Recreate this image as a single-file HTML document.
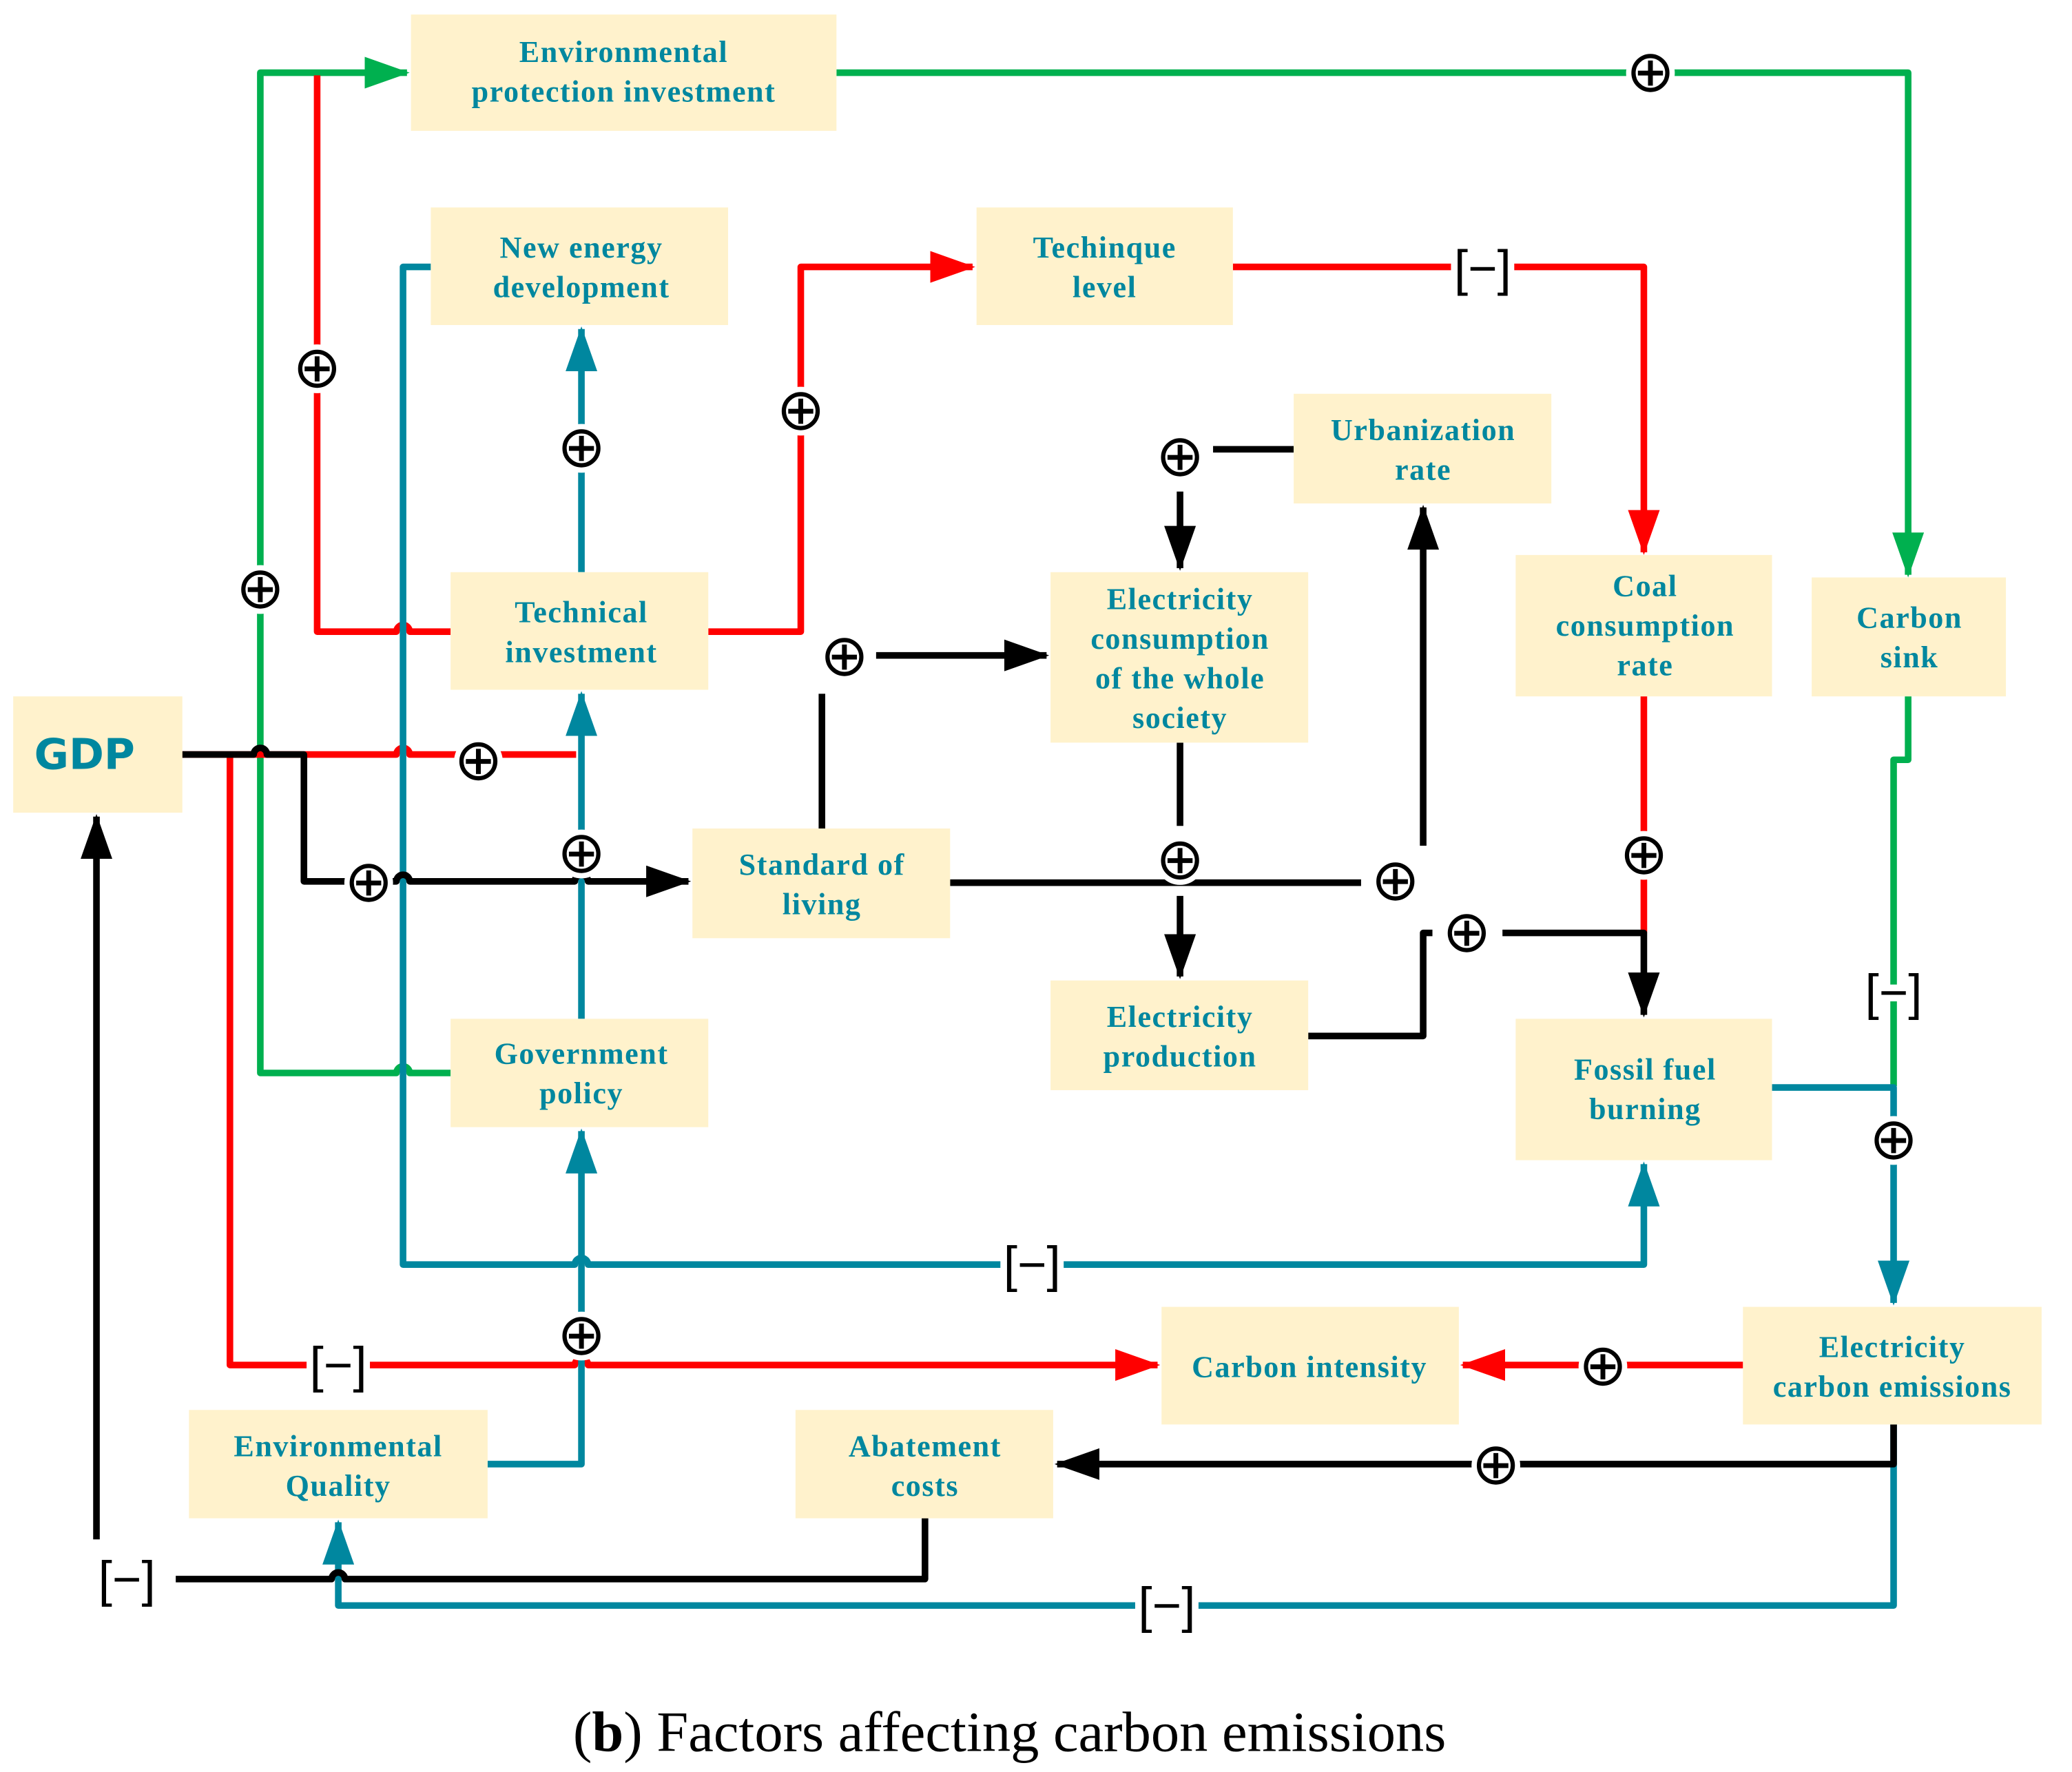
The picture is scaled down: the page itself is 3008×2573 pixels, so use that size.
<!DOCTYPE html>
<html><head><meta charset="utf-8"><style>
html,body{margin:0;padding:0;background:#fff;}
svg{display:block;}
.b{fill:#fff2cc;}
.t{font-family:"Liberation Serif",serif;font-weight:bold;fill:#00879f;font-size:23px;text-anchor:middle;letter-spacing:0.8px;}
.s{font-family:"DejaVu Sans",sans-serif;font-size:44px;text-anchor:middle;fill:#000;stroke:#fff;stroke-width:8px;paint-order:stroke;}
.m{font-family:"Liberation Sans",sans-serif;font-size:38px;text-anchor:middle;fill:#000;stroke:#fff;stroke-width:10px;paint-order:stroke;}
.g{stroke:#00b04f;fill:none;stroke-width:5;stroke-linejoin:round}
.r{stroke:#ff0000;fill:none;stroke-width:5;stroke-linejoin:round}
.c{stroke:#00879f;fill:none;stroke-width:5;stroke-linejoin:round}
.k{stroke:#000;fill:none;stroke-width:5;stroke-linejoin:round}
</style></head><body>
<svg width="3008" height="2573" viewBox="0 0 1568 1341" preserveAspectRatio="none" xmlns="http://www.w3.org/2000/svg">
<defs>
<marker id="ag" markerUnits="userSpaceOnUse" markerWidth="34" markerHeight="24" refX="32" refY="12" orient="auto"><path d="M0,0 L34,12 L0,24Z" fill="#00b04f"/></marker>
<marker id="ar" markerUnits="userSpaceOnUse" markerWidth="34" markerHeight="24" refX="32" refY="12" orient="auto"><path d="M0,0 L34,12 L0,24Z" fill="#ff0000"/></marker>
<marker id="ac" markerUnits="userSpaceOnUse" markerWidth="34" markerHeight="24" refX="32" refY="12" orient="auto"><path d="M0,0 L34,12 L0,24Z" fill="#00879f"/></marker>
<marker id="ak" markerUnits="userSpaceOnUse" markerWidth="34" markerHeight="24" refX="32" refY="12" orient="auto"><path d="M0,0 L34,12 L0,24Z" fill="#000"/></marker>
</defs>

<path class="g" d="M197,440 V55 H308" marker-end="url(#ag)"/>
<path class="g" d="M197,440 V812 H300 a5,5 0 0 1 10,0 H341"/>
<path class="g" d="M633,55 H1444 V435" marker-end="url(#ag)"/>
<path class="g" d="M1444,527 V575 H1433 V822"/>
<path class="r" d="M240,57 V478 H300 a5,5 0 0 1 10,0 H341"/>
<path class="r" d="M536,478 H606 V202 H736" marker-end="url(#ar)"/>
<path class="r" d="M933,202 H1244 V418" marker-end="url(#ar)"/>
<path class="r" d="M1244,527 V706"/>
<path class="r" d="M138,571 H300 a5,5 0 0 1 10,0 H436"/>
<path class="r" d="M174,571 V1033 H435 a5,5 0 0 1 10,0 H876" marker-end="url(#ar)"/>
<path class="r" d="M1319,1033 H1107" marker-end="url(#ar)"/>
<path class="c" d="M326,202 H305 V957 H435 a5,5 0 0 1 10,0 H1244 V881" marker-end="url(#ac)"/>
<path class="c" d="M440,433 V249" marker-end="url(#ac)"/>
<path class="c" d="M440,771 V525" marker-end="url(#ac)"/>
<path class="c" d="M369,1108 H440 V856" marker-end="url(#ac)"/>
<path class="c" d="M1341,823 H1433 V986" marker-end="url(#ac)"/>
<path class="c" d="M1433,1078 V1215 H256 V1152" marker-end="url(#ac)"/>
<path class="k" d="M138,571 H192 a5,5 0 0 1 10,0 H230 V667 H300 a5,5 0 0 1 10,0 H435 a5,5 0 0 1 10,0 H521" marker-end="url(#ak)"/>
<path class="k" d="M622,627 V525"/>
<path class="k" d="M663,496 H792" marker-end="url(#ak)"/>
<path class="k" d="M719,668 H1030"/>
<path class="k" d="M1077,640 V384" marker-end="url(#ak)"/>
<path class="k" d="M979,340 H918"/>
<path class="k" d="M893,372 V430" marker-end="url(#ak)"/>
<path class="k" d="M893,562 V625"/>
<path class="k" d="M893,678 V739" marker-end="url(#ak)"/>
<path class="k" d="M990,784 H1077 V706 H1084"/>
<path class="k" d="M1137,706 H1244 V768" marker-end="url(#ak)"/>
<path class="k" d="M1433,1078 V1108 H800" marker-end="url(#ak)"/>
<path class="k" d="M700,1149 V1195 H261 a5,5 0 0 0 -10,0 H133"/>
<path class="k" d="M73,1165 V618" marker-end="url(#ak)"/>

<rect class="b" x="311" y="11" width="322" height="88"/>
<text class="t" x="472" y="47">Environmental</text><text class="t" x="472" y="77">protection investment</text>
<rect class="b" x="326" y="157" width="225" height="89"/>
<text class="t" x="440" y="195">New energy</text><text class="t" x="440" y="225">development</text>
<rect class="b" x="739" y="157" width="194" height="89"/>
<text class="t" x="836" y="195">Techinque</text><text class="t" x="836" y="225">level</text>
<rect class="b" x="979" y="298" width="195" height="83"/>
<text class="t" x="1077" y="333">Urbanization</text><text class="t" x="1077" y="363">rate</text>
<rect class="b" x="341" y="433" width="195" height="89"/>
<text class="t" x="440" y="471">Technical</text><text class="t" x="440" y="501">investment</text>
<rect class="b" x="795" y="433" width="195" height="129"/>
<text class="t" x="893" y="461">Electricity</text><text class="t" x="893" y="491">consumption</text><text class="t" x="893" y="521">of the whole</text><text class="t" x="893" y="551">society</text>
<rect class="b" x="1147" y="420" width="194" height="107"/>
<text class="t" x="1245" y="451">Coal</text><text class="t" x="1245" y="481">consumption</text><text class="t" x="1245" y="511">rate</text>
<rect class="b" x="1371" y="437" width="147" height="90"/>
<text class="t" x="1445" y="475">Carbon</text><text class="t" x="1445" y="505">sink</text>
<rect class="b" x="10" y="527" width="128" height="88"/>
<text x="64" y="582" style="font-family:'DejaVu Sans',sans-serif;font-weight:bold;font-size:32px;fill:#00879f;text-anchor:middle">GDP</text>
<rect class="b" x="524" y="627" width="195" height="83"/>
<text class="t" x="622" y="662">Standard of</text><text class="t" x="622" y="692">living</text>
<rect class="b" x="795" y="742" width="195" height="83"/>
<text class="t" x="893" y="777">Electricity</text><text class="t" x="893" y="807">production</text>
<rect class="b" x="341" y="771" width="195" height="82"/>
<text class="t" x="440" y="805">Government</text><text class="t" x="440" y="835">policy</text>
<rect class="b" x="1147" y="771" width="194" height="107"/>
<text class="t" x="1245" y="817">Fossil fuel</text><text class="t" x="1245" y="847">burning</text>
<rect class="b" x="879" y="989" width="225" height="89"/>
<text class="t" x="991" y="1042">Carbon intensity</text>
<rect class="b" x="1319" y="989" width="226" height="89"/>
<text class="t" x="1432" y="1027">Electricity</text><text class="t" x="1432" y="1057">carbon emissions</text>
<rect class="b" x="143" y="1067" width="226" height="82"/>
<text class="t" x="256" y="1102">Environmental</text><text class="t" x="256" y="1132">Quality</text>
<rect class="b" x="602" y="1067" width="195" height="82"/>
<text class="t" x="700" y="1102">Abatement</text><text class="t" x="700" y="1132">costs</text>

<g class="s">
<text x="1249" y="69">⊕</text>
<text x="240" y="293">⊕</text>
<text x="440" y="353">⊕</text>
<text x="606" y="325">⊕</text>
<text x="197" y="460">⊕</text>
<text x="893" y="360">⊕</text>
<text x="639" y="511">⊕</text>
<text x="362" y="590">⊕</text>
<text x="440" y="660">⊕</text>
<text x="279" y="682">⊕</text>
<text x="893" y="665">⊕</text>
<text x="1056" y="681">⊕</text>
<text x="1244" y="661">⊕</text>
<text x="1110" y="720">⊕</text>
<text x="1433" y="877">⊕</text>
<text x="440" y="1025">⊕</text>
<text x="1213" y="1048">⊕</text>
<text x="1132" y="1123">⊕</text>
</g>
<g class="m">
<text x="1122" y="216">[−]</text>
<text x="1433" y="764">[−]</text>
<text x="781" y="970">[−]</text>
<text x="256" y="1046">[−]</text>
<text x="96" y="1208">[−]</text>
<text x="883" y="1228">[−]</text>
</g>
<text x="764" y="1325" style="font-family:'Liberation Serif',serif;font-size:43px;text-anchor:middle;fill:#000">(<tspan font-weight="bold">b</tspan>) Factors affecting carbon emissions</text>
</svg>
</body></html>
